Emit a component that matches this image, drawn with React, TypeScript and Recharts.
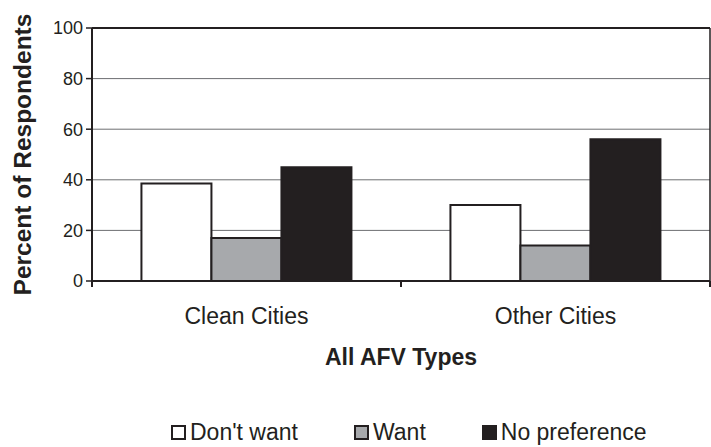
import { Bar, BarChart, CartesianGrid, Legend, ReferenceLine, XAxis, YAxis } from "recharts";

const categories = ["Clean Cities", "Other Cities"];
const dontWant = [38.5, 30];
const want = [17, 14];
const noPreference = [45, 56];
const yTicks = [0, 20, 40, 60, 80, 100];

const ink = "#231f20";
const font = '"Liberation Sans", Arial, sans-serif';

const series = [
  { key: "dontWant", name: "Don't want", fill: "#ffffff" },
  { key: "want", name: "Want", fill: "#a7a9ac" },
  { key: "noPreference", name: "No preference", fill: ink },
];

const data = categories.map((c, i) => ({
  category: c,
  dontWant: dontWant[i],
  want: want[i],
  noPreference: noPreference[i],
}));

// category label, plus tick marks on the band edges (Excel style)
function CategoryTick({ x, y, payload }: any) {
  const half = payload.offset ?? 0;
  return (
    <g>
      <line x1={x - half} x2={x - half} y1={y} y2={y + 6} stroke={ink} strokeWidth={2} />
      <line x1={x + half} x2={x + half} y1={y} y2={y + 6} stroke={ink} strokeWidth={2} />
      <text x={x} y={y} dy={43} textAnchor="middle" fill={ink} fontSize={23} fontFamily={font}>
        {payload.value}
      </text>
    </g>
  );
}

function XTitle({ viewBox }: any) {
  const { x, y, width } = viewBox;
  return (
    <text x={x + width / 2} y={y + 84} textAnchor="middle" fill={ink} fontSize={23} fontWeight="bold" fontFamily={font}>
      All AFV Types
    </text>
  );
}

function YTitle({ viewBox }: any) {
  const { y, height } = viewBox;
  const cx = 31;
  const cy = y + height / 2;
  return (
    <text
      x={cx}
      y={cy}
      transform={`rotate(-90 ${cx} ${cy})`}
      textAnchor="middle"
      fill={ink}
      fontSize={24.5}
      fontWeight="bold"
      fontFamily={font}
    >
      Percent of Respondents
    </text>
  );
}

function LegendBox() {
  return (
    <div
      style={{
        display: "flex",
        alignItems: "center",
        height: 40,
        paddingTop: 10,
        paddingLeft: 171,
        boxSizing: "border-box",
        fontFamily: font,
        fontSize: 23,
        lineHeight: 1,
        color: ink,
      }}
    >
      {series.map((s, i) => (
        <div key={s.key} style={{ display: "flex", alignItems: "center", marginRight: i < series.length - 1 ? 56 : 0 }}>
          <span
            style={{
              width: 15,
              height: 15,
              boxSizing: "border-box",
              border: `2px solid ${ink}`,
              background: s.fill,
              marginRight: 4,
            }}
          />
          <span>{s.name}</span>
        </div>
      ))}
    </div>
  );
}

export default function App() {
  return (
    <div style={{ position: "absolute", left: 0, top: 0, width: 711, height: 447, background: "#fff" }}>
      <BarChart
        width={711}
        height={447}
        data={data}
        margin={{ top: 28, right: 0, bottom: 0, left: 0 }}
        barCategoryGap="16%"
        barGap={0}
      >
        <CartesianGrid xAxisId="cat" yAxisId="left" vertical={false} stroke="#6d6e71" strokeWidth={1} />
        <XAxis
          xAxisId="cat"
          dataKey="category"
          height={126}
          axisLine={{ stroke: ink, strokeWidth: 2 }}
          tickLine={false}
          tickSize={0}
          tickMargin={0}
          interval={0}
          tick={<CategoryTick />}
          label={(p: any) => <XTitle {...p} />}
        />
        <YAxis
          yAxisId="left"
          domain={[0, 100]}
          ticks={yTicks}
          width={92}
          tickSize={6}
          tickMargin={3}
          tick={{ fill: ink, fontSize: 18, fontFamily: font }}
          axisLine={{ stroke: ink, strokeWidth: 2 }}
          tickLine={{ stroke: ink, strokeWidth: 1.5 }}
          label={(p: any) => <YTitle {...p} />}
        />
        <YAxis
          yAxisId="right"
          orientation="right"
          domain={[0, 100]}
          width={1}
          tick={false}
          tickLine={false}
          axisLine={{ stroke: ink, strokeWidth: 1.5 }}
        />
        <ReferenceLine xAxisId="cat" yAxisId="left" y={100} stroke={ink} strokeWidth={2} />
        <Legend verticalAlign="bottom" height={40} content={() => <LegendBox />} />
        {series.map((s) => (
          <Bar
            key={s.key}
            xAxisId="cat"
            yAxisId="left"
            dataKey={s.key}
            name={s.name}
            fill={s.fill}
            stroke={ink}
            strokeWidth={2}
            isAnimationActive={false}
          />
        ))}
      </BarChart>
    </div>
  );
}
